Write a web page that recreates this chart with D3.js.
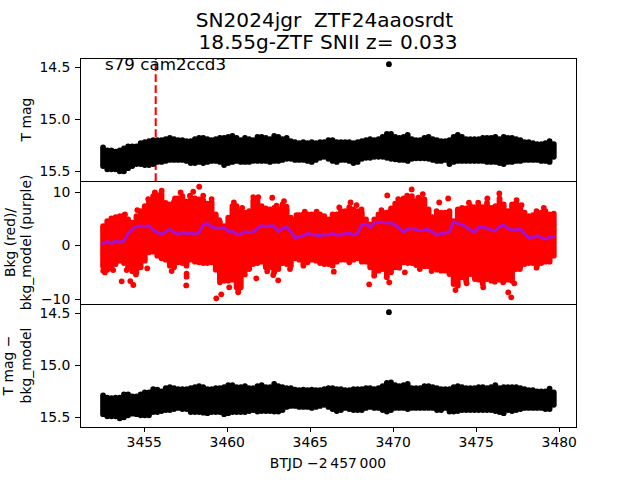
<!DOCTYPE html>
<html>
<head>
<meta charset="utf-8">
<script src="https://cdn.jsdelivr.net/npm/d3@7"></script>
<style>
html,body{margin:0;padding:0;background:#fff;}
svg{display:block;font-family:"DejaVu Sans",sans-serif;}
text{white-space:pre;fill:#000;}
</style>
</head>
<body>
<div id="chart"></div>
<script>
// Envelope of the dense cloud, read per ~0.25 day column from the picture
const columnStart = 3452.55, columnStep = 0.2514, columnCount = 109;
const columnTimes = d3.range(columnCount).map(i => columnStart + columnStep * i);

const tmagBright = [15.27,15.30,15.30,15.31,15.30,15.28,15.26,15.26,15.26,15.23,15.22,15.21,15.20,15.20,15.20,15.19,15.18,15.19,15.20,15.20,15.21,15.21,15.19,15.18,15.18,15.19,15.20,15.19,15.18,15.18,15.17,15.16,15.18,15.20,15.18,15.19,15.20,
15.17,15.17,15.18,15.19,15.16,15.17,15.19,15.18,15.21,15.22,15.23,15.22,15.23,15.22,15.23,15.22,15.22,15.20,15.20,15.22,15.22,15.22,15.22,15.23,15.22,15.21,15.20,15.19,15.20,15.19,15.17,15.14,15.14,15.17,15.18,15.17,15.15,
15.19,15.20,15.20,15.18,15.17,15.19,15.20,15.21,15.21,15.20,15.17,15.15,15.17,15.19,15.19,15.19,15.19,15.18,15.18,15.18,15.17,15.19,15.17,15.18,15.18,15.19,15.20,15.22,15.22,15.23,15.24,15.24,15.23,15.21,15.24];
const tmagFaint = [15.45,15.48,15.48,15.48,15.50,15.50,15.47,15.45,15.43,15.43,15.44,15.44,15.43,15.41,15.41,15.40,15.39,15.39,15.39,15.39,15.40,15.42,15.42,15.41,15.42,15.41,15.40,15.40,15.41,15.44,15.42,15.41,15.40,15.41,15.41,15.41,15.40,
15.40,15.40,15.40,15.41,15.40,15.40,15.39,15.38,15.38,15.39,15.39,15.39,15.40,15.41,15.39,15.37,15.36,15.38,15.40,15.41,15.39,15.39,15.40,15.42,15.41,15.38,15.37,15.37,15.36,15.36,15.36,15.37,15.38,15.385,15.39,15.39,15.40,
15.38,15.375,15.375,15.375,15.38,15.39,15.40,15.40,15.39,15.43,15.41,15.40,15.40,15.40,15.40,15.40,15.40,15.40,15.41,15.41,15.41,15.42,15.43,15.41,15.41,15.40,15.40,15.39,15.39,15.39,15.39,15.40,15.40,15.41,15.36];

const bkgHigh = [3.59,4.52,5.02,5.27,5.45,5.58,4.83,4.21,5.45,6.38,7.31,8.37,9.18,9.36,9.61,7.93,7.62,8.12,8.74,9.18,8.12,8.87,8.74,8.56,8.37,7.75,8.06,5.76,4.33,3.59,5.14,7.31,7.31,6.38,6.07,6.38,8.37,8.37,7.31,6.88,6.69,7.00,6.69,7.62,6.69,5.14,4.83,5.64,5.76,5.76,5.76,5.64,5.76,5.45,4.83,
5.76,5.76,6.38,6.38,7.13,6.69,6.38,6.07,4.83,3.90,4.83,5.76,6.07,6.07,6.88,7.75,8.12,8.74,8.74,9.18,8.24,8.56,8.56,6.69,5.27,6.07,6.07,6.07,6.38,4.52,6.69,7.00,6.88,7.31,7.13,7.31,7.13,7.93,7.00,7.31,8.74,7.62,6.38,7.62,7.93,7.31,6.07,5.45,5.64,5.89,6.07,6.38,5.76,5.89];
const bkgLow = [-3.91,-4.54,-4.29,-3.48,-2.86,-3.29,-4.29,-4.85,-4.91,-4.10,-2.86,-1.31,-1.18,-1.93,-2.42,-2.67,-3.79,-4.10,-3.17,-3.29,-3.79,-2.67,-3.05,-3.17,-3.29,-3.29,-3.17,-4.54,-6.40,-6.58,-6.58,-6.40,-7.83,-7.83,-4.72,-4.41,-3.48,-3.29,-3.05,-4.10,-4.10,-5.03,-4.41,-3.29,-3.48,-3.79,-2.42,-2.67,-3.79,-3.17,-2.67,-2.86,-3.29,-3.48,-3.48,
-3.79,-3.05,-2.67,-2.67,-3.17,-2.67,-2.42,-3.05,-3.05,-4.10,-5.16,-4.72,-4.41,-5.96,-5.03,-4.10,-3.67,-3.17,-3.29,-3.29,-3.67,-3.79,-3.91,-3.91,-4.29,-4.54,-4.72,-4.72,-5.34,-7.20,-7.51,-5.96,-6.58,-5.34,-5.78,-6.40,-7.20,-6.27,-6.58,-6.27,-6.40,-6.58,-6.40,-6.58,-4.41,-3.91,-3.48,-3.29,-3.29,-3.67,-3.29,-3.05,-3.05,-1.93];
const bkgModel = [0.36,0.68,0.36,0.86,0.55,0.80,2.23,2.97,3.47,3.59,3.47,3.66,2.85,2.41,2.04,2.54,2.97,2.41,2.04,2.41,2.23,2.35,2.04,2.41,3.78,4.09,3.47,3.16,3.16,3.28,2.54,2.66,2.04,2.04,2.54,2.41,2.54,3.16,3.66,3.47,3.66,3.59,2.54,3.16,3.47,2.54,1.42,1.61,1.79,2.23,2.04,1.92,1.79,2.04,1.92,
2.23,1.92,1.92,2.23,2.35,1.92,2.23,3.78,3.97,3.34,4.21,4.28,4.28,4.15,4.21,3.78,3.16,2.41,3.03,3.16,2.97,2.72,2.85,2.97,2.41,1.92,2.23,2.29,2.54,4.40,4.09,3.78,3.47,2.85,2.41,3.34,3.47,3.16,2.85,2.66,3.47,3.78,3.16,2.85,2.85,3.03,2.23,1.30,1.48,1.79,1.42,1.17,1.54,1.61];

const correctedBright = [15.29,15.31,15.315,15.31,15.31,15.28,15.28,15.30,15.30,15.28,15.26,15.26,15.23,15.235,15.25,15.22,15.21,15.22,15.23,15.23,15.23,15.22,15.21,15.20,15.21,15.23,15.23,15.22,15.22,15.21,15.19,15.19,15.21,15.21,15.20,15.22,15.22,
15.20,15.19,15.21,15.21,15.18,15.20,15.21,15.22,15.22,15.235,15.24,15.235,15.24,15.235,15.24,15.24,15.23,15.22,15.22,15.23,15.23,15.24,15.24,15.23,15.23,15.23,15.22,15.22,15.23,15.22,15.20,15.17,15.165,15.19,15.20,15.19,15.18,
15.22,15.22,15.22,15.20,15.20,15.21,15.22,15.23,15.23,15.23,15.21,15.20,15.21,15.22,15.22,15.22,15.21,15.21,15.22,15.21,15.19,15.22,15.21,15.21,15.21,15.21,15.22,15.23,15.24,15.24,15.25,15.25,15.25,15.225,15.26];
const correctedFaint = [15.47,15.49,15.49,15.49,15.51,15.50,15.48,15.465,15.47,15.48,15.48,15.48,15.45,15.45,15.44,15.43,15.43,15.42,15.41,15.42,15.42,15.45,15.45,15.45,15.455,15.46,15.45,15.45,15.45,15.47,15.46,15.45,15.45,15.45,15.45,15.44,15.43,
15.445,15.44,15.44,15.44,15.445,15.445,15.43,15.40,15.39,15.39,15.40,15.40,15.40,15.41,15.40,15.39,15.38,15.40,15.42,15.44,15.43,15.41,15.42,15.43,15.43,15.43,15.41,15.40,15.41,15.41,15.43,15.445,15.43,15.41,15.41,15.41,15.42,
15.41,15.41,15.41,15.41,15.41,15.41,15.43,15.43,15.41,15.445,15.445,15.44,15.43,15.43,15.43,15.43,15.43,15.43,15.43,15.43,15.44,15.45,15.46,15.43,15.44,15.43,15.42,15.41,15.41,15.41,15.41,15.41,15.42,15.42,15.38];

// Isolated and fringe points
const tmagOutlierT = [3469.77];
const tmagOutlierV = [14.47];
const correctedOutlierT = [3469.77];
const correctedOutlierV = [14.49];
const bkgOutlierT = [3458.34,3457.98,3456.08,3457.22,3453.67,3454.19,3454.37,3455.21,3457.58,3457.58,3457.56,3459.37,3459.67,3460.15,3460.69,3461.78,3462.44,3463.10,3462.74,3463.45,3468.58,3469.79,3470.73,3476.96,3477.14,3477.32,3469.67,3471.14,3471.54,3471.81,3473.34,3472.80,3466.78,3467.46,3476.42,3475.70,3475.45,
3453.87,3454.61,3455.27,3455.67,3456.88,3457.78,3458.58,3459.09,3459.55,3460.43,3460.93,3461.60,3461.90,3463.00,3463.60,3464.20,3464.70,3465.41,
3452.56,3452.66,3453.16,3453.97,3454.53,3456.68,3459.59,3460.69,3461.09,3462.80,3463.81,
3467.82,3468.12,3469.32,3470.33,3470.87,3472.64,3474.59,3475.15,3477.46,3477.76,3478.66,3479.10,
3466.45,3468.88,3470.39,3471.63,3472.34,3473.78,3474.45,3474.95,3476.15,3476.65,3477.66,3478.66];
const bkgOutlierV = [10.92,9.99,10.17,9.87,-6.71,-6.65,-7.39,-4.29,-5.28,-5.84,-7.46,-9.88,-9.13,-7.82,-8.32,-6.15,-4.84,-6.52,8.87,8.25,-7.27,-6.89,-5.03,-8.76,-9.69,-7.08,9.31,10.42,8.87,9.55,8.75,8.00,7.07,8.00,9.68,8.75,-7.82,
5.77,6.57,8.62,9.86,8.74,9.24,9.24,8.62,4.71,8.00,7.00,8.99,8.99,7.38,7.19,5.64,6.26,6.26,
-4.72,-5.04,-4.60,-4.60,-5.41,-4.79,-6.90,-8.76,-5.41,-5.53,-4.41,
7.50,6.70,6.57,8.62,9.24,6.39,7.94,7.94,8.43,7.50,6.39,7.00,
-4.91,-5.66,-4.17,-4.41,-4.79,-8.33,-7.08,-6.28,-6.77,-6.90,-4.41,-4.17];

const discoveryTime = [3455.72];
const xTicks = [3455,3460,3465,3470,3475,3480];
const magTicks = [14.5,15.0,15.5];
const bkgTicks = [-10,0,10];
const titleLines = ["SN2024jgr  ZTF24aaosrdt","18.55g-ZTF SNII z= 0.033"];
const sectorLabel = "s79 cam2ccd3";
const xLabel = "BTJD \u22122\u2009457\u2009000";

const W = 640, H = 480;
const left = 80, right = 576;
const panels = {top:[58,181], mid:[181,304], bot:[304,427]};
const x = d3.scaleLinear().domain([3451.16,3481.04]).range([left,right]);
const yTop = d3.scaleLinear().domain([14.411,15.593]).range(panels.top);
const yMid = d3.scaleLinear().domain([11.99,-10.93]).range([panels.mid[0],panels.mid[1]]);
const yBot = d3.scaleLinear().domain([14.411,15.593]).range(panels.bot);

const svg = d3.select("#chart").append("svg").attr("width",W).attr("height",H);
svg.append("rect").attr("width",W).attr("height",H).attr("fill","#fff");

const R = 2.9;
function drawCloud(y, a, b, ot, ov, color){
  const g = svg.append("g");
  g.selectAll("line").data(columnTimes).join("line")
    .attr("x1",d=>x(d)).attr("x2",d=>x(d))
    .attr("y1",(d,i)=>y(a[i])).attr("y2",(d,i)=>y(b[i]))
    .attr("stroke",color).attr("stroke-width",R*2).attr("stroke-linecap","round");
  g.selectAll("circle").data(ot).join("circle")
    .attr("cx",d=>x(d)).attr("cy",(d,i)=>y(ov[i])).attr("r",R).attr("fill",color);
}

// top panel
svg.selectAll("line.disc").data(discoveryTime).join("line").attr("class","disc")
  .attr("x1",d=>x(d)).attr("x2",d=>x(d))
  .attr("y1",panels.top[1]).attr("y2",panels.top[0])
  .attr("stroke","#f00").attr("stroke-width",2.08).attr("stroke-dasharray","7.7 3.3");
drawCloud(yTop,tmagBright,tmagFaint,tmagOutlierT,tmagOutlierV,"#000");

// middle panel
drawCloud(yMid,bkgHigh,bkgLow,bkgOutlierT,bkgOutlierV,"#f00");
svg.append("path").datum(bkgModel)
  .attr("d",d3.line().x((d,i)=>x(columnTimes[i])).y(d=>yMid(d)))
  .attr("fill","none").attr("stroke","#a80fd0").attr("stroke-width",3.1).attr("stroke-linejoin","round").attr("stroke-linecap","round");

// bottom panel
drawCloud(yBot,correctedBright,correctedFaint,correctedOutlierT,correctedOutlierV,"#000");

// axes
function styleAxis(g){
  g.select(".domain").remove();
  g.selectAll(".tick line").attr("stroke","#000").attr("stroke-width",1).attr("shape-rendering","crispEdges");
  g.selectAll(".tick text").attr("font-size","13.9px").attr("font-family","DejaVu Sans").attr("fill","#000");
}
const fmtMag = d3.format(".1f");
svg.append("g").attr("transform",`translate(${left},0)`)
  .call(d3.axisLeft(yTop).tickValues(magTicks).tickFormat(fmtMag).tickSize(4.9).tickPadding(4.8)).call(styleAxis);
svg.append("g").attr("transform",`translate(${left},0)`)
  .call(d3.axisLeft(yMid).tickValues(bkgTicks).tickFormat(d=>d<0?"\u2212"+Math.abs(d):String(d)).tickSize(4.9).tickPadding(4.8)).call(styleAxis);
svg.append("g").attr("transform",`translate(${left},0)`)
  .call(d3.axisLeft(yBot).tickValues(magTicks).tickFormat(fmtMag).tickSize(4.9).tickPadding(4.8)).call(styleAxis);
svg.append("g").attr("transform",`translate(0,${panels.bot[1]})`)
  .call(d3.axisBottom(x).tickValues(xTicks).tickFormat(d3.format("d")).tickSize(4.9).tickPadding(4.8)).call(styleAxis);

// frames
Object.values(panels).forEach(p=>{
  svg.append("rect").attr("x",left+0.5).attr("y",p[0]+0.5).attr("width",right-left).attr("height",p[1]-p[0])
    .attr("fill","none").attr("stroke","#000").attr("stroke-width",1);
});

// text
svg.append("text").attr("x",105).attr("y",70).attr("font-size","16.7px").text(sectorLabel);
svg.append("text").attr("x",324.5).attr("y",27).attr("text-anchor","middle").attr("font-size","20.1px").text(titleLines[0]);
svg.append("text").attr("x",328).attr("y",49).attr("text-anchor","middle").attr("font-size","20.1px").text(titleLines[1]);
svg.append("text").attr("x",328).attr("y",468).attr("text-anchor","middle").attr("font-size","13.9px").text(xLabel);

function vLabel(xp,yp,s){
  svg.append("text").attr("transform",`translate(${xp},${yp}) rotate(-90)`).attr("text-anchor","middle").attr("font-size","13.9px").text(s);
}
vLabel(31,119.5,"T mag");
vLabel(15,242.5,"Bkg (red)/");
vLabel(31,242.5,"bkg_model (purple)");
vLabel(13,365.5,"T mag \u2212");
vLabel(31,365.5,"bkg_model");
</script>
</body>
</html>
